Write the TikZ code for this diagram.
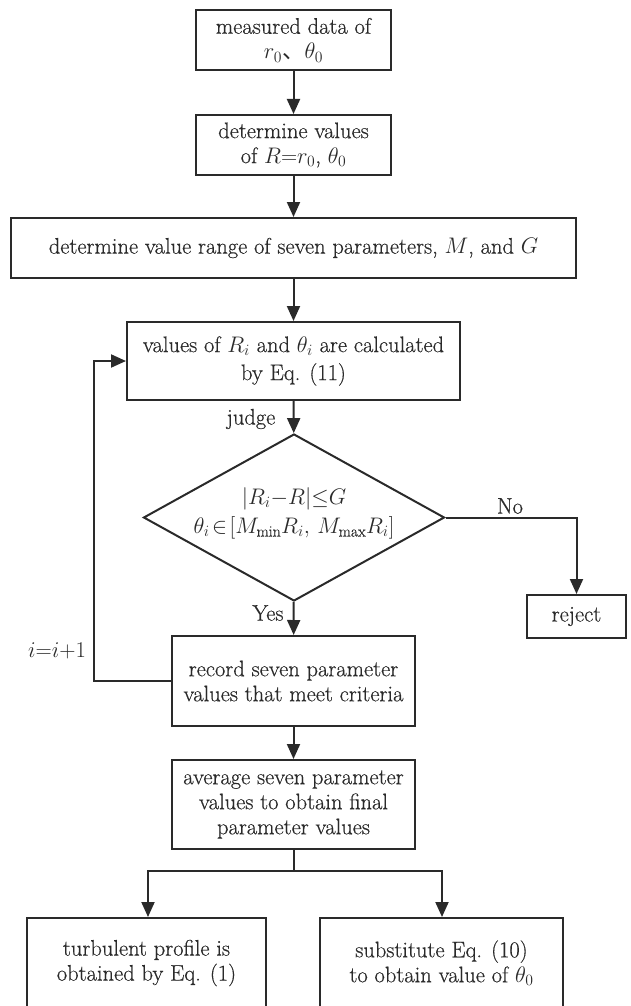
\RequirePackage{fix-cm}
\documentclass[tikz,border=0pt]{standalone}
\usepackage{fontspec}
\usepackage{amsmath}
\setmainfont{Latin Modern Roman}[FakeBold=0.5]
\newfontfamily\cjk{Noto Sans CJK SC}
\usetikzlibrary{arrows.meta,shapes.geometric}
\definecolor{ink}{HTML}{2A2A2A}
\tikzset{
  base/.style={font=\fontsize{22.5}{25}\selectfont, text=ink},
  stepbox/.style={base, draw=ink, line width=2pt, inner sep=0pt, align=center},
  choice/.style={base, draw=ink, line width=2pt, diamond, inner sep=0pt, align=center},
  lbl/.style={base, inner sep=0pt},
  arr/.style={draw=ink, line width=2pt, -{Triangle[length=15pt,width=13pt]}},
  link/.style={draw=ink, line width=2pt}
}
\begin{document}
\begin{tikzpicture}[x=1pt, y=-1pt]
\useasboundingbox (0,0) rectangle (630,1006);

\node[stepbox, minimum width=195pt, minimum height=60pt] (b1) at (293.5,40)
  {measured data of\\ $r_{0}${\cjk 、}$\theta_{0}$};
\node[stepbox, minimum width=195pt, minimum height=60pt] (b2) at (293.5,145)
  {determine values\\ of $R{=}r_{0}$, $\theta_{0}$};
\node[stepbox, minimum width=565pt, minimum height=60pt] (b3) at (293.5,248)
  {determine value range of seven parameters, $M$, and $G$};
\node[stepbox, minimum width=333pt, minimum height=78pt] (b4) at (293.5,361)
  {values of $R_{i}$ and $\theta_{i}$ are calculated\\[3pt] by Eq. (11)};
\node[choice, minimum width=301pt, minimum height=167pt] (dia) at (294,517.5) {};
\node[lbl, align=center] (cond) at (294,513)
  {$|R_{i}{-}R|{\le}G$\\[4pt] $\theta_{i}\!\in\![M_{\min}R_{i},\,M_{\max}R_{i}]$};
\node[stepbox, minimum width=99pt, minimum height=43pt] (rej) at (576.5,616.5) {reject};
\node[stepbox, minimum width=243pt, minimum height=90pt] (b5) at (293.5,681)
  {record seven parameter\\ values that meet criteria};
\node[stepbox, minimum width=243pt, minimum height=89pt] (b6) at (293.5,804.5)
  {average seven parameter\\ values to obtain final\\ parameter values};
\node[stepbox, minimum width=239pt, minimum height=90pt] (bl) at (146.5,963)
  {turbulent profile is\\ obtained by Eq. (1)};
\node[stepbox, minimum width=243pt, minimum height=90pt] (br) at (441.5,963)
  {substitute Eq. (10)\\ to obtain value of $\theta_{0}$};

% edge labels
\node[lbl] (judge) at (251,419) {judge};
\node[lbl] (yes) at (268,613) {Yes};
\node[lbl] (no) at (510,506) {No};
\node[lbl] (inc) at (57,651) {$i{=}i{+}1$};

% main flow
\draw[arr] (b1) -- (b2);
\draw[arr] (b2) -- (b3);
\draw[arr] (b3) -- (b4);
\draw[arr] (b4) -- (dia);
\draw[arr] (dia) -- (b5);
\draw[arr] (b5) -- (b6);
\draw[arr] (dia.east) -| (rej.north);

% loop back for the next trial
\coordinate (loop) at (94,681);
\draw[arr] (b5.west) -- (loop) |- (b4.west);

% split into the two results
\coordinate (split) at (293.5,871);
\draw[link] (b6.south) -- (split);
\draw[arr] (split) -| ([xshift=1.5pt]bl.north);
\draw[arr] (split) -| ([xshift=0.5pt]br.north);
\end{tikzpicture}
\end{document}
